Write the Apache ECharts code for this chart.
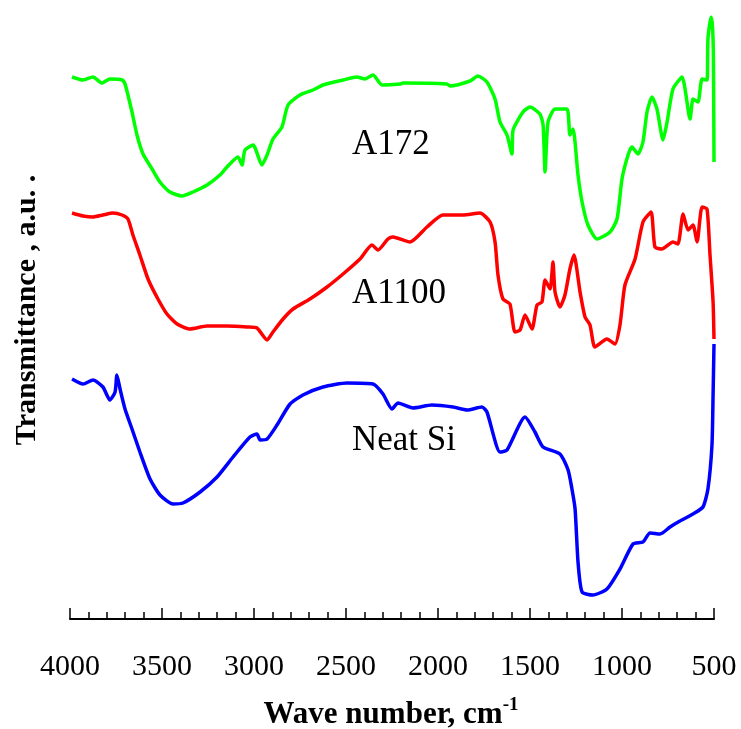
<!DOCTYPE html>
<html>
<head>
<meta charset="utf-8">
<script src="https://cdn.jsdelivr.net/npm/echarts@6/dist/echarts.min.js"></script>
<style>
  html, body { margin: 0; padding: 0; background: #fff; }
  #main { width: 741px; height: 729px; }
</style>
</head>
<body>
<div id="main"></div>
<script>
// wave number (cm-1), transmittance (a.u., stacked offsets as in the figure)
const a172 = [
  [3989, 542], [3929, 539], [3875, 542], [3826, 536], [3783, 540], [3717, 539], [3701, 535],
  [3685, 524], [3663, 507], [3636, 484], [3603, 465], [3554, 450], [3511, 437], [3457, 427],
  [3391, 423], [3332, 427], [3255, 434], [3185, 444], [3147, 452], [3087, 462], [3065, 454],
  [3049, 469], [3005, 474], [2957, 454], [2929, 464], [2897, 480], [2848, 492], [2815, 514],
  [2750, 524], [2679, 529], [2625, 534], [2516, 539], [2440, 542], [2397, 540], [2353, 544],
  [2304, 534], [2207, 535], [2190, 536], [1951, 535], [1935, 533], [1826, 538], [1783, 543],
  [1734, 537], [1690, 520], [1663, 497], [1625, 484], [1598, 465], [1592, 489], [1538, 507],
  [1500, 512], [1446, 505], [1429, 494], [1418, 447], [1402, 497], [1364, 510], [1299, 510],
  [1283, 484], [1266, 490], [1239, 444], [1217, 417], [1185, 394], [1136, 380], [1065, 387],
  [1027, 400], [1000, 440], [967, 464], [946, 472], [913, 465], [886, 477], [864, 507],
  [837, 522], [810, 510], [777, 479], [755, 497], [723, 530], [674, 542], [630, 500],
  [614, 520], [587, 517], [565, 540], [538, 539], [533, 580], [516, 602], [508, 592],
  [503, 560], [500, 457]
];
const a1100 = [
  [3989, 406], [3929, 403], [3875, 402], [3821, 404], [3766, 406], [3717, 404], [3685, 400],
  [3658, 384], [3620, 364], [3576, 340], [3522, 320], [3473, 305], [3418, 295], [3348, 290],
  [3255, 293], [3147, 293], [3038, 292], [2984, 291], [2929, 279], [2897, 287], [2842, 300],
  [2788, 310], [2696, 320], [2603, 332], [2516, 345], [2424, 360], [2359, 374], [2326, 369],
  [2272, 380], [2245, 382], [2152, 377], [2060, 392], [1973, 404], [1864, 404], [1772, 406],
  [1717, 397], [1690, 377], [1674, 344], [1647, 320], [1609, 315], [1582, 287], [1554, 289],
  [1527, 304], [1489, 290], [1462, 314], [1435, 317], [1418, 339], [1391, 330], [1375, 357],
  [1364, 327], [1337, 312], [1310, 324], [1283, 350], [1261, 364], [1228, 327], [1201, 302],
  [1174, 294], [1147, 272], [1082, 280], [1038, 275], [1011, 294], [984, 334], [929, 360],
  [886, 397], [842, 407], [821, 372], [783, 370], [723, 377], [696, 375], [668, 405],
  [641, 389], [614, 394], [592, 377], [565, 412], [538, 410], [522, 365], [505, 317],
  [500, 280]
];
const neatSi = [
  [3989, 240], [3929, 235], [3875, 239], [3821, 232], [3783, 219], [3755, 227], [3745, 244],
  [3728, 230], [3701, 210], [3663, 190], [3620, 167], [3565, 140], [3511, 124], [3440, 115],
  [3386, 116], [3293, 127], [3201, 142], [3114, 162], [3022, 182], [2984, 185], [2967, 179],
  [2929, 180], [2875, 194], [2804, 215], [2734, 224], [2625, 232], [2495, 236], [2353, 235],
  [2299, 225], [2250, 210], [2217, 216], [2136, 211], [2033, 214], [1918, 212], [1842, 209],
  [1761, 212], [1734, 207], [1663, 167], [1625, 169], [1527, 202], [1473, 187], [1429, 172],
  [1337, 165], [1293, 149], [1272, 130], [1255, 110], [1239, 57], [1217, 27], [1158, 24],
  [1082, 30], [1011, 50], [940, 75], [886, 77], [848, 86], [793, 85], [739, 92],
  [685, 98], [614, 105], [560, 112], [533, 130], [511, 174], [505, 224], [500, 275]
];
const seriesNames = ['A172', 'A1100', 'Neat Si'];
const seriesColors = ['#00ff00', '#ff0000', '#0000ff'];
const seriesData = [a172, a1100, neatSi];

const serif = '"Liberation Serif", "Times New Roman", serif';

const chart = echarts.init(document.getElementById('main'));
const option = {
  animation: false,
  backgroundColor: '#fff',
  grid: { left: 70, right: 27, top: 17, bottom: 110 },
  xAxis: {
    type: 'value',
    inverse: true,
    min: 500,
    max: 4000,
    interval: 500,
    axisLine: { lineStyle: { color: '#000', width: 2 } },
    axisTick: { inside: true, length: 11, lineStyle: { color: '#000', width: 1.5 } },
    minorTick: { show: true, splitNumber: 5, length: 7, lineStyle: { color: '#000', width: 1.5 } },
    axisLabel: {
      color: '#000', fontFamily: serif, fontSize: 30, margin: 33,
      formatter: v => String(v)
    },
    splitLine: { show: false }
  },
  yAxis: {
    type: 'value',
    min: 0,
    max: 602,
    show: false
  },
  series: seriesData.map((d, i) => ({
    name: seriesNames[i],
    type: 'line',
    data: d,
    showSymbol: false,
    smooth: 0.2,
    lineStyle: { color: seriesColors[i], width: 3.5 }
  })),
  graphic: [
    {
      type: 'text', left: 352, top: 127,
      style: { text: 'A172', font: '35px ' + serif, fill: '#000' }
    },
    {
      type: 'text', left: 352, top: 276,
      style: { text: 'A1100', font: '35px ' + serif, fill: '#000' }
    },
    {
      type: 'text', left: 352, top: 423,
      style: { text: 'Neat Si', font: '35px ' + serif, fill: '#000' }
    },
    {
      type: 'text', x: 27, y: 310, rotation: Math.PI / 2,
      style: {
        text: 'Transmittance , a.u. .',
        font: 'bold 30px ' + serif, fill: '#000',
        align: 'center', verticalAlign: 'middle'
      }
    },
    {
      type: 'text', x: 391, y: 713,
      style: {
        text: '{b|Wave number, cm}{s|-1}',
        align: 'center', verticalAlign: 'middle',
        rich: {
          b: { font: 'bold 31px ' + serif, fill: '#000', lineHeight: 34, verticalAlign: 'bottom' },
          s: { font: 'bold 19px ' + serif, fill: '#000', lineHeight: 34, verticalAlign: 'top', padding: [0, 0, 14, 0] }
        }
      }
    }
  ]
};
chart.setOption(option);
</script>
</body>
</html>
